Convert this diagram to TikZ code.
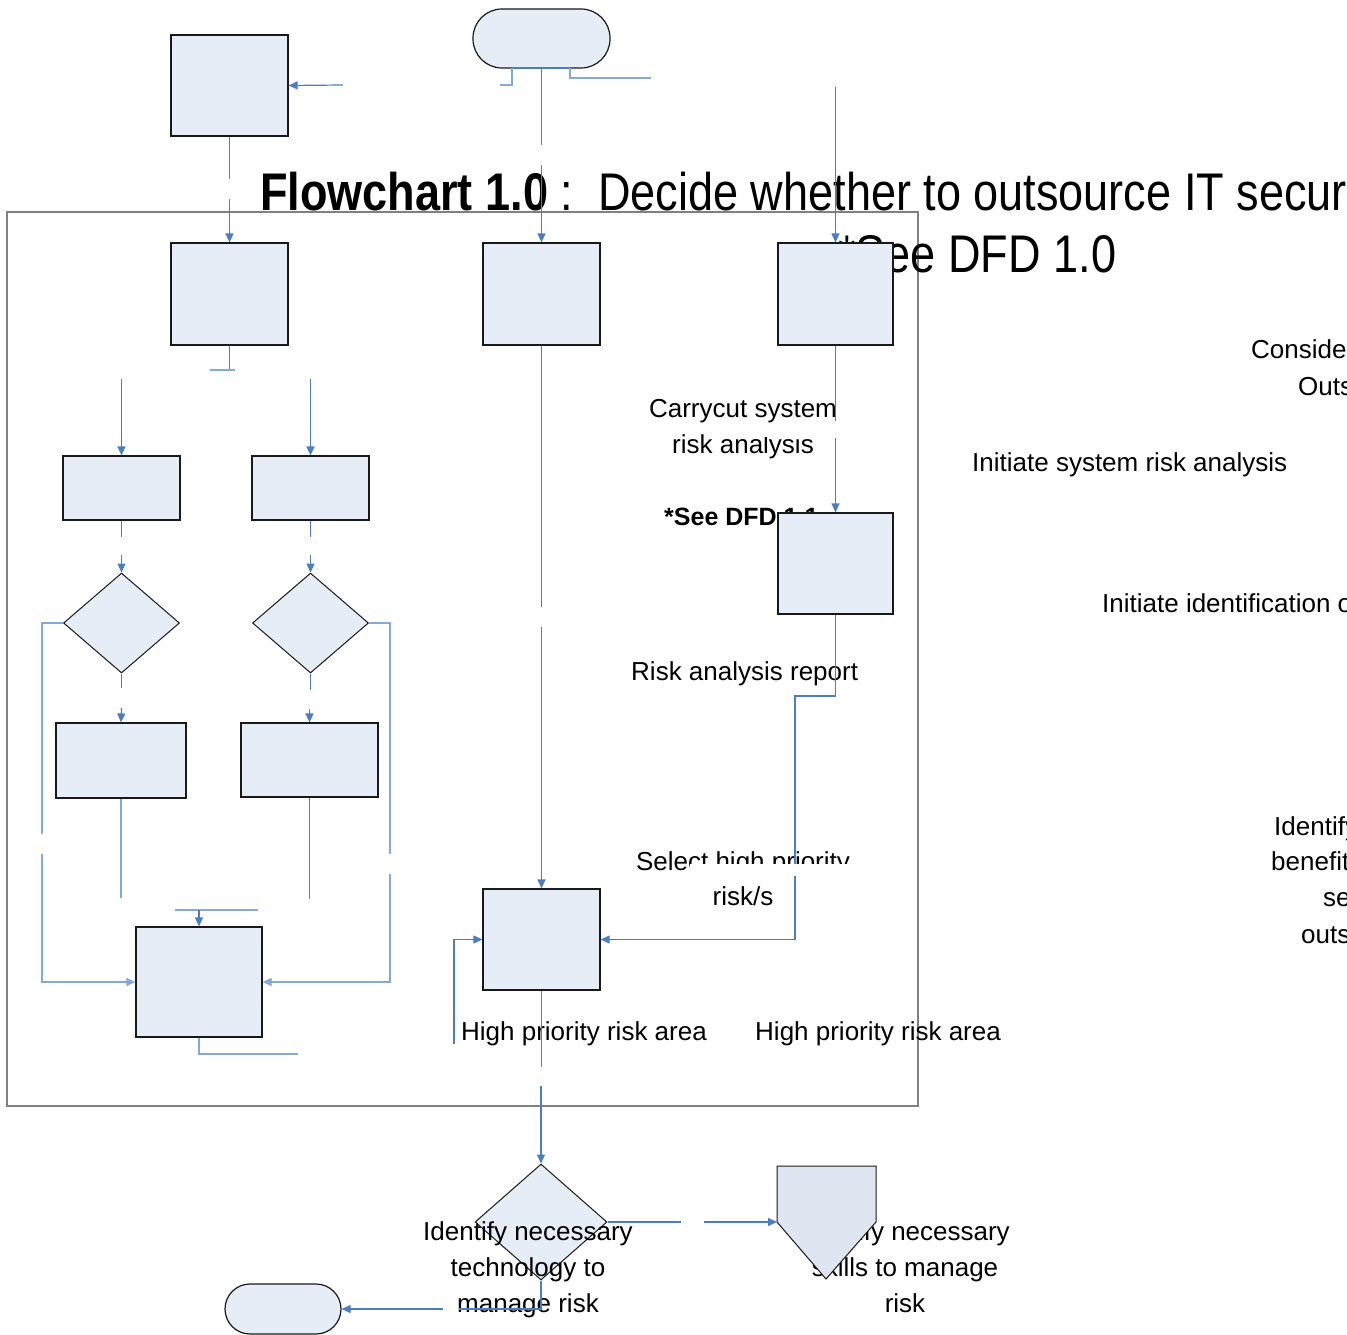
\documentclass[tikz,border=0pt]{standalone}
\usepackage{fontspec}
\setmainfont{Liberation Sans}
\newfontfamily\condfont[FakeStretch=0.85]{Liberation Sans}
\usetikzlibrary{arrows.meta,shapes.geometric}
\definecolor{boxfill}{HTML}{E6EDF7}
\definecolor{pentfill}{HTML}{DFE6F1}
\definecolor{conncol}{HTML}{4A7EC2}
\definecolor{connlt}{HTML}{86A7DA}
\definecolor{framegray}{HTML}{808080}
\begin{document}
\begin{tikzpicture}[x=1pt,y=-1pt,
  box/.style={draw=black!90, line width=1.2pt, fill=boxfill, inner sep=0pt},
  dia/.style={diamond, draw=black!90, line width=1pt, fill=boxfill, inner sep=0pt},
  term/.style={draw=black!90, line width=1.2pt, fill=boxfill, inner sep=0pt},
  link/.style={draw=conncol, line width=1.2pt},
  linklt/.style={draw=connlt, line width=1.4pt},
  arr/.style={link, -{Triangle[length=9pt,width=8pt]}},
  lbl/.style={font=\fontsize{26}{31}\selectfont, inner sep=0pt},
  big/.style={font=\condfont\fontsize{53}{60}\selectfont, inner sep=0pt, anchor=base west},
]
\clip (0,0) rectangle (1347,1335);
\fill[white] (0,0) rectangle (1347,1335);

% frame
\draw[draw=framegray, line width=1.5pt] (7,212) rectangle (918,1106);

% texts
\node[big] (title) at (260,210) {\textbf{Flowchart 1.0} :\ \ Decide whether to outsource IT security};
\node[big] (seedfd) at (838,272) {*See DFD 1.0};
\node[lbl, anchor=base] (carry1) at (743,417) {Carrycut system};
\node[lbl, anchor=base] (carry2) at (743,453) {risk analysis};
\node[lbl, anchor=base west, font=\bfseries\fontsize{25}{30}\selectfont] (seedfd11) at (664,525) {*See DFD 1.1};
\node[lbl, anchor=base west] (rar) at (631,680) {Risk analysis report};
\node[lbl, anchor=base] (sel1) at (743,870) {Select high priority};
\node[lbl, anchor=base] (sel2) at (743,905) {risk/s};
\node[lbl, anchor=base west] (hpra1) at (461,1040) {High priority risk area};
\node[lbl, anchor=base west] (hpra2) at (755,1040) {High priority risk area};
\node[lbl, anchor=base west] (consider) at (1251,358) {Conside};
\node[lbl, anchor=base west] (outs1) at (1298,395) {Outs};
\node[lbl, anchor=base west] (initsys) at (972,471) {Initiate system risk analysis};
\node[lbl, anchor=base west] (initid) at (1102,612) {Initiate identification of};
\node[lbl, anchor=base west] (ident) at (1274,835) {Identify};
\node[lbl, anchor=base west] (benef) at (1271,870) {benefit};
\node[lbl, anchor=base west] (serv) at (1323,906) {se};
\node[lbl, anchor=base west] (outs2) at (1301,943) {outs};
\node[lbl, anchor=base] (skill1) at (905,1240) {Identify necessary};
\node[lbl, anchor=base] (skill2) at (905,1276) {skills to manage};
\node[lbl, anchor=base] (skill3) at (905,1312) {risk};

% white cut-outs seen in the reference
\fill[white] (722,423) rectangle (842,437);
\fill[white] (690,864) rectangle (850,877);

% boxes
\node[term, rounded corners=29pt, minimum width=137pt, minimum height=59pt] (start) at (541.5,38.5) {};
\node[box, minimum width=117pt, minimum height=101pt] (boxA) at (229.5,85.5) {};
\node[box, minimum width=117pt, minimum height=102pt] (boxB) at (229.5,294) {};
\node[box, minimum width=117pt, minimum height=102pt] (boxC) at (541.5,294) {};
\node[box, minimum width=115pt, minimum height=102pt] (boxD) at (835.5,294) {};
\node[box, minimum width=115pt, minimum height=101pt] (boxE) at (835.5,563.5) {};
\node[box, minimum width=117pt, minimum height=101pt] (boxF) at (541.5,939.5) {};
\node[box, minimum width=117pt, minimum height=64pt] (boxJ) at (121.5,488) {};
\node[box, minimum width=117pt, minimum height=64pt] (boxK) at (310.5,488) {};
\node[dia, minimum width=116pt, minimum height=100pt] (diaL) at (121.5,623) {};
\node[dia, minimum width=116pt, minimum height=100pt] (diaM) at (310.5,623) {};
\node[box, minimum width=130pt, minimum height=75pt] (boxN) at (121,760.5) {};
\node[box, minimum width=137pt, minimum height=74pt] (boxO) at (309.5,760) {};
\node[box, minimum width=126pt, minimum height=110pt] (boxP) at (199,982) {};
\node[dia, minimum width=132pt, minimum height=116pt] (diaG) at (541,1222) {};
\node[term, rounded corners=25pt, minimum width=116pt, minimum height=50pt] (stop) at (283,1309) {};

% text over the lower diamond
\node[lbl, anchor=base] (tech1) at (528,1240) {Identify necessary};
\node[lbl, anchor=base] (tech2) at (528,1276) {technology to};
\node[lbl, anchor=base] (tech3) at (528,1312) {manage risk};

% pentagon (off-page connector)
\coordinate (pentL) at (777,1222);
\filldraw[fill=pentfill, draw=black!90, line width=1pt] (777,1166) -- (876,1166) -- (876,1222) -- (826,1279) -- (pentL) -- cycle;

% connectors: top part
\draw[link] (512,68) -- (570,68);
\draw[linklt] (512,68) -- (512,85) -- (500,85);
\draw[linklt] (570,68) -- (570,78) -- (651,78);
\draw[link] (start.south) -- (541.5,145);
\draw[arr] (541.5,165) -- (boxC.north);
\draw[arr] (343,85) -- (boxA.east);
\draw[link] (boxA.south) -- (229.5,179);
\draw[arr] (229.5,199) -- (boxB.north);
\draw[link] (boxB.south) -- (229.5,370);
\draw[linklt] (210,370) -- (235,370);
\draw[arr] (835.5,87) -- (boxD.north);
\draw[link] (boxD.south) -- (835.5,421);
\draw[arr] (835.5,438) -- (boxE.north);
\draw[link] (boxE.south) -- (835.5,696) -- (795,696) -- (795,864);
\draw[arr] (795,876) |- (boxF.east);
\draw[link] (boxC.south) -- (541.5,607);
\draw[arr] (541.5,627) -- (boxF.north);
\draw[arr] (454,1044) |- (boxF.west);
\draw[link] (boxF.south) -- (541.5,1067);
\draw[arr] (541,1086) -- (diaG.north);
\draw[link] (diaG.east) -- (681,1222);
\draw[arr] (704,1222) -- (pentL);
\draw[link] (diaG.south) -- (541,1309) -- (459,1309);
\draw[arr] (443,1309) -- (stop.east);

% connectors: left sub-flow
\draw[arr] (121.5,379) -- (boxJ.north);
\draw[arr] (310.5,379) -- (boxK.north);
\draw[link] (boxJ.south) -- (121.5,537);
\draw[arr] (121.5,555) -- (diaL.north);
\draw[link] (boxK.south) -- (310.5,537);
\draw[arr] (310.5,555) -- (diaM.north);
\draw[link] (diaL.south) -- (121.5,688);
\draw[arr] (121.5,708) -- (boxN.north);
\draw[link] (diaM.south) -- (310.5,690);
\draw[arr] (309.5,709) -- (boxO.north);
\draw[linklt] (diaL.west) -- (42,623) -- (42,834);
\draw[arr, draw=connlt] (42,854) |- (boxP.west);
\draw[linklt] (diaM.east) -- (390,623) -- (390,854);
\draw[arr, draw=connlt] (390,874) |- (boxP.east);
\draw[linklt] (boxN.south) -- (121,898);
\draw[link] (boxO.south) -- (309.5,899);
\draw[linklt] (175,910) -- (258,910);
\draw[arr] (199,910) -- (boxP.north);
\draw[linklt] (boxP.south) -- (199,1054) -- (298,1054);
\end{tikzpicture}
\end{document}
